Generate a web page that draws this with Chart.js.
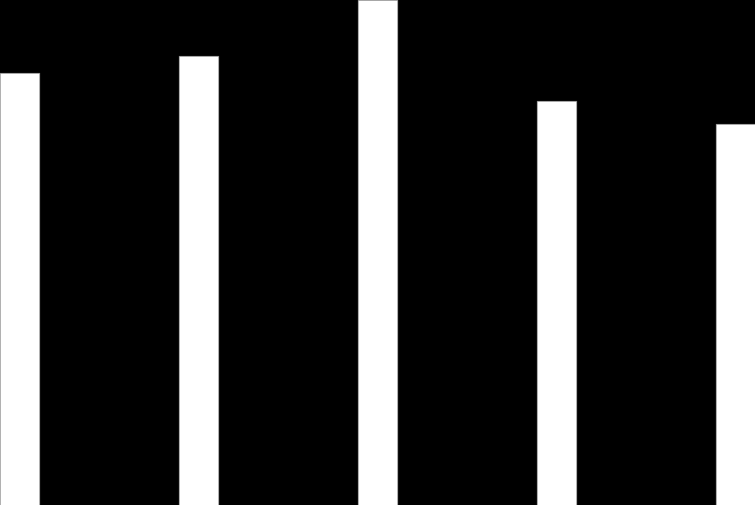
<!DOCTYPE html>
<html>
<head>
<meta charset="utf-8">
<script src="https://cdn.jsdelivr.net/npm/chart.js@4"></script>
<style>
  html, body { margin: 0; padding: 0; background: #000; }
  canvas { display: block; }
</style>
</head>
<body>
<canvas id="barChart" width="755" height="505"></canvas>
<script>
// === Data ===
const categories = [0, 1, 2, 3, 4];
const values = [432, 449, 505, 404, 381];
const yMax = 505;

// === Chart ===
const ctx = document.getElementById("barChart").getContext("2d");

new Chart(ctx, {
    type: "bar",
    data: {
        datasets: [{
            data: categories.map((c, i) => ({ x: c, y: values[i] })),
            backgroundColor: "#ffffff",
            borderColor: "#8a8a8a",
            borderWidth: 1,
            barThickness: 40
        }]
    },
    options: {
        responsive: false,
        animation: false,
        layout: { padding: 0 },
        scales: {
            x: {
                type: "linear",
                offset: false,
                min: -20 / 179,
                max: 735 / 179,
                display: false
            },
            y: {
                min: 0,
                max: yMax,
                display: false
            }
        },
        plugins: {
            legend: { display: false },
            tooltip: { enabled: false }
        }
    }
});
</script>
</body>
</html>
